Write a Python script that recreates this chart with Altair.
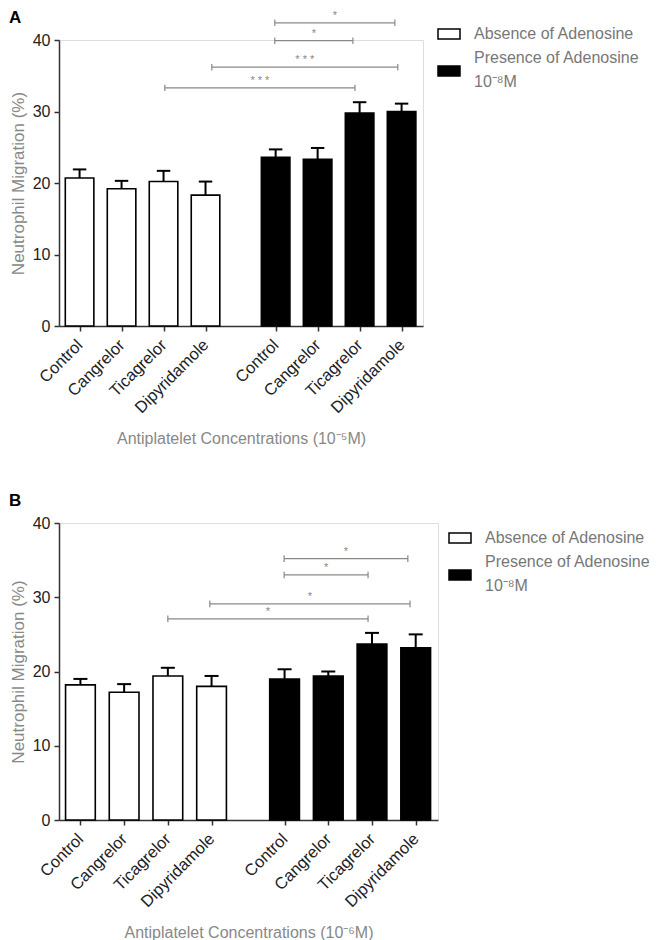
import json
import altair as alt
import pandas as pd

cats = ["Control", "Cangrelor", "Ticagrelor", "Dipyridamole"]
groups = ["Absence of Adenosine", "Presence of Adenosine"]
group_line2 = "10⁻⁸M"
positions = [0, 1, 2, 3, 4.67, 5.67, 6.67, 7.67]

# Panel A (10^-5 M)
a_means = [20.7, 19.2, 20.2, 18.3, 23.6, 23.3, 29.8, 30.0]
a_sem = [1.2, 1.1, 1.5, 1.9, 1.1, 1.6, 1.5, 1.1]
a_brk_x1 = [4.65, 4.65, 3.15, 2.03]
a_brk_x2 = [7.51, 6.51, 7.58, 6.56]
a_brk_y = [42.4, 39.9, 36.2, 33.3]
a_brk_lbl = ["*", "*", "* * *", "* * *"]

# Panel B (10^-6 M)
b_means = [18.2, 17.2, 19.4, 18.0, 19.0, 19.4, 23.7, 23.2]
b_sem = [0.8, 1.1, 1.1, 1.4, 1.3, 0.6, 1.5, 1.8]
b_brk_x1 = [4.66, 4.66, 2.96, 2.0]
b_brk_x2 = [7.49, 6.58, 7.54, 6.58]
b_brk_y = [35.2, 33.0, 29.1, 27.1]
b_brk_lbl = ["*", "*", "*", "*"]

y_ticks = [0, 10, 20, 30, 40]

FONT = "Liberation Sans"
names_js = json.dumps(cats)
label_expr = (f"datum.value < 4 ? {names_js}[round(datum.value)] : "
              f"{names_js}[round(datum.value - 4.67)]")

one = pd.DataFrame({"k": [0]})


def legend_layers(sx, sy):
    """Manual legend: sx = symbol left, sy = top of first symbol (pixels rel. to plot)."""
    s1 = alt.Chart(one).mark_rect(fill="white", stroke="black", strokeWidth=1.5).encode(
        x=alt.value(sx), x2=alt.value(sx + 22), y=alt.value(sy), y2=alt.value(sy + 10))
    s2 = alt.Chart(one).mark_rect(fill="black", stroke="black", strokeWidth=1.5).encode(
        x=alt.value(sx), x2=alt.value(sx + 22), y=alt.value(sy + 37), y2=alt.value(sy + 47))
    tx = sx + 36
    t1 = alt.Chart(one).mark_text(align="left", baseline="middle", fontSize=16,
                                  color="#777", font=FONT, text=groups[0]).encode(
        x=alt.value(tx), y=alt.value(sy + 5))
    t2 = alt.Chart(one).mark_text(align="left", baseline="middle", fontSize=16,
                                  color="#777", font=FONT, text=groups[1]).encode(
        x=alt.value(tx), y=alt.value(sy + 29))
    t3 = alt.Chart(one).mark_text(align="left", baseline="middle", fontSize=16,
                                  color="#777", font=FONT, text=group_line2).encode(
        x=alt.value(tx), y=alt.value(sy + 53))
    return [s1, s2, t1, t2, t3]


def panel(means, sems, bx1, bx2, by, blbl, letter, conc_title, width, height,
          leg_x, leg_y):
    df = pd.DataFrame({
        "pos": positions,
        "cat": cats * 2,
        "group": [groups[0]] * 4 + [groups[1]] * 4,
        "mean": means,
        "top": [m + s for m, s in zip(means, sems)],
    })
    df["left"] = df["pos"] - 0.34
    df["right"] = df["pos"] + 0.34
    df["capl"] = df["pos"] - 0.16
    df["capr"] = df["pos"] + 0.16

    bdf = pd.DataFrame({"x1": bx1, "x2": bx2, "y": by, "lbl": blbl})
    bdf["xm"] = (bdf["x1"] + bdf["x2"]) / 2
    bdf["ylo"] = bdf["y"] - 0.45
    bdf["yhi"] = bdf["y"] + 0.45

    xscale = alt.Scale(domain=[-0.49, 8.18], nice=False, zero=False)
    yscale = alt.Scale(domain=[0, 40], nice=False)

    xaxis = alt.Axis(values=positions, labelExpr=label_expr, title=conc_title,
                     labelAngle=-45, labelAlign="right", labelBaseline="middle",
                     labelFontSize=16.5, labelColor="#222", labelPadding=11,
                     labelOverlap=False, labelBound=False, labelFlush=False,
                     titleFontSize=16, titleColor="#888", titleFontWeight="normal",
                     titlePadding=14, tickSize=5, tickColor="#333",
                     domainColor="#333", domainWidth=1.5, tickWidth=1.5, grid=False)
    yaxis = alt.Axis(values=y_ticks, title="Neutrophil  Migration (%)",
                     labelFontSize=16, labelColor="#222", labelPadding=4,
                     titleFontSize=17, titleColor="#888", titleFontWeight="normal",
                     titlePadding=5, tickSize=5, tickColor="#333",
                     domainColor="#333", domainWidth=1.5, tickWidth=1.5, grid=False)

    bars = alt.Chart(df).mark_rect(stroke="black", strokeWidth=1.6).encode(
        x=alt.X("left:Q", scale=xscale, axis=xaxis),
        x2="right:Q",
        y=alt.Y("mean:Q", scale=yscale, axis=yaxis),
        y2=alt.datum(0),
        fill=alt.Fill("group:N", scale=alt.Scale(domain=groups, range=["white", "black"]),
                      legend=None),
    )
    err = alt.Chart(df).mark_rule(color="black", strokeWidth=2).encode(
        x="pos:Q", y="mean:Q", y2="top:Q")
    cap = alt.Chart(df).mark_rule(color="black", strokeWidth=2).encode(
        x="capl:Q", x2="capr:Q", y="top:Q")

    bline = alt.Chart(bdf).mark_rule(color="#888", strokeWidth=1.2).encode(
        x="x1:Q", x2="x2:Q", y="y:Q")
    bc1 = alt.Chart(bdf).mark_rule(color="#888", strokeWidth=1.2).encode(
        x="x1:Q", y="ylo:Q", y2="yhi:Q")
    bc2 = alt.Chart(bdf).mark_rule(color="#888", strokeWidth=1.2).encode(
        x="x2:Q", y="ylo:Q", y2="yhi:Q")
    btxt = alt.Chart(bdf).mark_text(color="#888", fontSize=11, dy=-7, font=FONT).encode(
        x="xm:Q", y="y:Q", text="lbl:N")

    ltxt = alt.Chart(one).mark_text(
        align="left", baseline="alphabetic", fontSize=17, fontWeight="bold",
        font=FONT, color="black", text=letter).encode(
        x=alt.value(-50), y=alt.value(-17))

    layers = [bars, err, cap, bline, bc1, bc2, btxt, ltxt] + legend_layers(leg_x, leg_y)
    return alt.layer(*layers).properties(width=width, height=height)


pa = panel(a_means, a_sem, a_brk_x1, a_brk_x2, a_brk_y, a_brk_lbl, "A",
           "Antiplatelet Concentrations (10⁻⁵M)", 364, 286, 379, -11)
pb = panel(b_means, b_sem, b_brk_x1, b_brk_x2, b_brk_y, b_brk_lbl, "B",
           "Antiplatelet Concentrations (10⁻⁶M)", 379, 297, 390, 10)

chart = alt.vconcat(pa, pb, spacing=44).resolve_scale(
    x="independent", y="independent", fill="independent"
).properties(
    padding={"left": 0, "top": 0, "right": 0, "bottom": 0}
).configure_view(stroke=None).configure(font=FONT)

chart.save("out.html", embed_options={"renderer": "svg", "actions": False})
